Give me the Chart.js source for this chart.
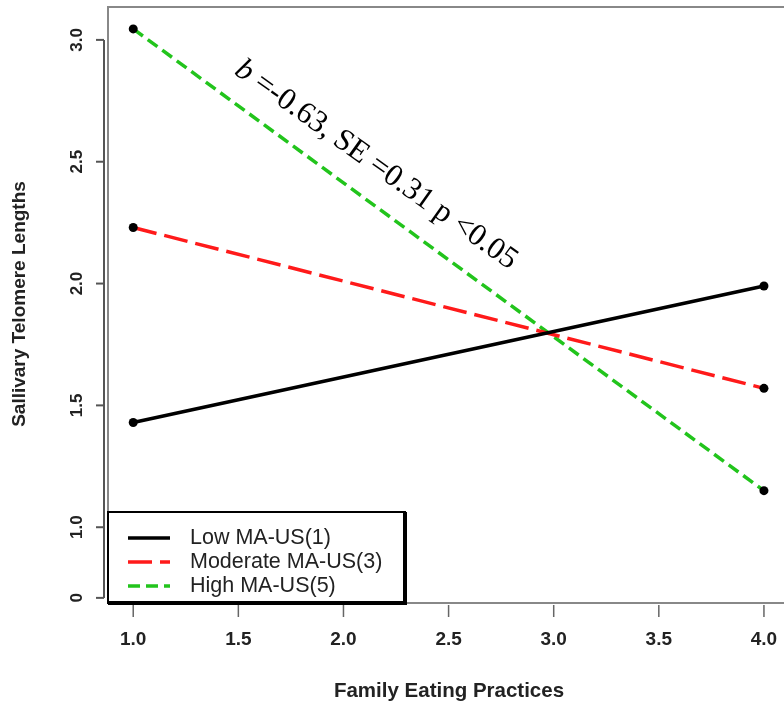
<!DOCTYPE html>
<html>
<head>
<meta charset="utf-8">
<script src="https://cdn.jsdelivr.net/npm/chart.js@4.4.1/dist/chart.umd.min.js"></script>
<style>
  html, body { margin: 0; padding: 0; background: #fff; }
</style>
</head>
<body>
<canvas id="myChart" width="784" height="705"></canvas>
<script>
const xValues = [1, 4];
const lowMA = [1.43, 1.99];
const moderateMA = [2.23, 1.57];
const highMA = [3.045, 1.15];
const seriesNames = ['Low MA-US(1)', 'Moderate MA-US(3)', 'High MA-US(5)'];
const xTicks = [1.0, 1.5, 2.0, 2.5, 3.0, 3.5, 4.0];
const yTicks = [0.71, 1.0, 1.5, 2.0, 2.5, 3.0]; // lowest one is the broken-axis "0"
const yTickLabels = ['0', '1.0', '1.5', '2.0', '2.5', '3.0'];
const xTitle = 'Family Eating Practices';
const yTitle = 'Sallivary Telomere Lengths';
const annotation = 'b =-0.63, SE =0.31 p <0.05';

const colors = ['#000000', '#ff1a1a', '#22c41c'];
const dashes = [[], [24, 8], [12, 6]];

function toPoints(ys) {
  return xValues.map((x, i) => ({ x: x, y: ys[i] }));
}

const datasets = [lowMA, moderateMA, highMA].map((ys, i) => ({
  label: seriesNames[i],
  data: toPoints(ys),
  borderColor: colors[i],
  borderWidth: 3.5,
  borderDash: dashes[i],
  pointRadius: 4.5,
  pointBackgroundColor: '#000',
  pointBorderColor: '#000',
  pointBorderWidth: 0,
  fill: false
}));

// R style frame, axes, labels and legend
const rStyle = {
  id: 'rStyle',
  beforeDatasetsDraw(chart) {
    const ctx = chart.ctx;
    const ca = chart.chartArea;
    ctx.save();
    ctx.strokeStyle = '#888';
    ctx.lineWidth = 2;
    ctx.strokeRect(ca.left, ca.top, ca.right - ca.left + 20, ca.bottom - ca.top);
    ctx.restore();
  },
  afterDraw(chart) {
    const ctx = chart.ctx;
    const xs = chart.scales.x;
    const ys = chart.scales.y;
    ctx.save();
    ctx.fillStyle = '#222';
    ctx.strokeStyle = '#555';
    ctx.lineWidth = 2;

    // y axis
    const axX = 104;
    ctx.beginPath();
    ctx.moveTo(axX, ys.getPixelForValue(yTicks[yTicks.length - 1]));
    ctx.lineTo(axX, ys.getPixelForValue(yTicks[0]));
    ctx.stroke();
    ctx.font = 'bold 17px "Liberation Sans", Arial, sans-serif';
    ctx.textAlign = 'center';
    ctx.textBaseline = 'middle';
    yTicks.forEach((v, i) => {
      const py = ys.getPixelForValue(v);
      ctx.beginPath();
      ctx.moveTo(axX - 8, py);
      ctx.lineTo(axX, py);
      ctx.stroke();
      ctx.save();
      ctx.translate(77, py);
      ctx.rotate(-Math.PI / 2);
      ctx.fillText(yTickLabels[i], 0, 0);
      ctx.restore();
    });

    // x axis ticks
    ctx.lineWidth = 1.5;
    ctx.strokeStyle = '#666';
    ctx.font = 'bold 19px "Liberation Sans", Arial, sans-serif';
    xTicks.forEach(v => {
      const px = xs.getPixelForValue(v);
      ctx.beginPath();
      ctx.moveTo(px, 605);
      ctx.lineTo(px, 617);
      ctx.stroke();
      ctx.fillText(v.toFixed(1), px, 640);
    });

    // titles
    ctx.font = 'bold 20.5px "Liberation Sans", Arial, sans-serif';
    ctx.fillText(xTitle, 449, 691);
    ctx.font = 'bold 19px "Liberation Sans", Arial, sans-serif';
    ctx.save();
    ctx.translate(20, 304);
    ctx.rotate(-Math.PI / 2);
    ctx.fillText(yTitle, 0, 0);
    ctx.restore();

    // legend
    const lx = 108, ly = 512, lw = 297, lh = 91;
    ctx.fillStyle = '#fff';
    ctx.fillRect(lx, ly, lw, lh);
    ctx.strokeStyle = '#000';
    ctx.lineWidth = 2;
    ctx.strokeRect(lx, ly, lw, lh);
    ctx.lineWidth = 4;
    ctx.beginPath();
    ctx.moveTo(lx + lw, ly);
    ctx.lineTo(lx + lw, ly + lh);
    ctx.lineTo(lx, ly + lh);
    ctx.stroke();
    const rows = [538, 562, 586];
    ctx.font = '21.5px "Liberation Sans", Arial, sans-serif';
    ctx.textAlign = 'left';
    seriesNames.forEach((name, i) => {
      ctx.strokeStyle = colors[i];
      ctx.lineWidth = 3.5;
      ctx.setLineDash(dashes[i]);
      ctx.beginPath();
      ctx.moveTo(128, rows[i]);
      ctx.lineTo(170, rows[i]);
      ctx.stroke();
      ctx.setLineDash([]);
      ctx.fillStyle = '#222';
      ctx.fillText(name, 190, rows[i]);
    });

    // slope annotation
    ctx.save();
    ctx.translate(376, 165);
    ctx.rotate(35.5 * Math.PI / 180);
    ctx.fillStyle = '#000';
    ctx.textBaseline = 'middle';
    ctx.textAlign = 'left';
    ctx.font = 'italic 31px "Liberation Serif", "Times New Roman", serif';
    const bW = ctx.measureText('b').width;
    ctx.font = '31px "Liberation Serif", "Times New Roman", serif';
    const rest = annotation.slice(1);
    const total = bW + ctx.measureText(rest).width;
    ctx.fillText(rest, -total / 2 + bW, 0);
    ctx.font = 'italic 31px "Liberation Serif", "Times New Roman", serif';
    ctx.fillText('b', -total / 2, 0);
    ctx.restore();

    ctx.restore();
  }
};

const ctx = document.getElementById('myChart').getContext('2d');
const myChart = new Chart(ctx, {
  type: 'line',
  data: { datasets: datasets },
  options: {
    responsive: false,
    animation: false,
    layout: { padding: { left: 108, top: 7, right: 0, bottom: 102 } },
    plugins: {
      legend: { display: false },
      tooltip: { enabled: false }
    },
    scales: {
      x: { type: 'linear', min: 0.88, max: 4.074, display: false },
      y: { type: 'linear', min: 0.689, max: 3.135, display: false }
    }
  },
  plugins: [rStyle]
});
</script>
</body>
</html>
